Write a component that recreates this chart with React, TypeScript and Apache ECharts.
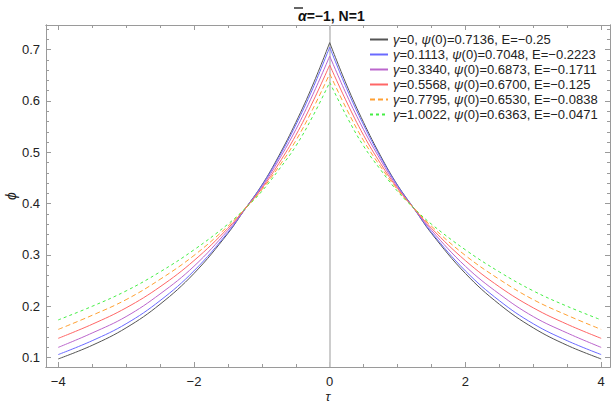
import React, { useEffect, useRef } from "react";
import * as echarts from "echarts";

// tau values (right half; curves are symmetric about tau = 0)
const tau = [0, 0.25, 0.5, 0.75, 1, 1.25, 1.5, 2, 2.5, 3, 3.5, 4];

const names = [
  "γ=0, ψ(0)=0.7136, E=−0.25",
  "γ=0.1113, ψ(0)=0.7048, E=−0.2223",
  "γ=0.3340, ψ(0)=0.6873, E=−0.1711",
  "γ=0.5568, ψ(0)=0.6700, E=−0.125",
  "γ=0.7795, ψ(0)=0.6530, E=−0.0838",
  "γ=1.0022, ψ(0)=0.6363, E=−0.0471",
];

const phiG0 = [0.7136, 0.631, 0.558, 0.493, 0.436, 0.389, 0.342, 0.264, 0.204, 0.158, 0.124, 0.0975];
const phiG1 = [0.7048, 0.624, 0.553, 0.49, 0.435, 0.389, 0.344, 0.269, 0.211, 0.166, 0.133, 0.106];
const phiG2 = [0.6873, 0.612, 0.544, 0.485, 0.432, 0.389, 0.348, 0.278, 0.224, 0.18, 0.148, 0.12];
const phiG3 = [0.67, 0.598, 0.533, 0.478, 0.4295, 0.3895, 0.352, 0.289, 0.238, 0.197, 0.165, 0.1376];
const phiG4 = [0.653, 0.584, 0.5226, 0.472, 0.427, 0.3898, 0.356, 0.299, 0.2525, 0.213, 0.1825, 0.155];
const phiG5 = [0.6363, 0.57, 0.512, 0.466, 0.424, 0.39, 0.36, 0.31, 0.267, 0.23, 0.2, 0.1735];
const curves = [phiG0, phiG1, phiG2, phiG3, phiG4, phiG5];

const colors = ["#555555", "#6a6aff", "#bb66cc", "#ff6666", "#ffa033", "#44ee44"];
const dashes: any[] = ["solid", "solid", "solid", "solid", [5, 3], [3, 3]];

const xMajor = [-4, -2, 0, 2, 4];
const xMinor = [-3.5, -3, -2.5, -1.5, -1, -0.5, 0.5, 1, 1.5, 2.5, 3, 3.5];
const yMajor = [0.1, 0.2, 0.3, 0.4, 0.5, 0.6, 0.7];
const yMinor = [
  0.12, 0.14, 0.16, 0.18, 0.22, 0.24, 0.26, 0.28, 0.32, 0.34, 0.36, 0.38, 0.42, 0.44, 0.46, 0.48,
  0.52, 0.54, 0.56, 0.58, 0.62, 0.64, 0.66, 0.68, 0.72, 0.74,
];

const X_MIN = -4.18;
const X_MAX = 4.13;
const Y_MIN = 0.0818;
const Y_MAX = 0.748;

const FONT = "Liberation Sans, Arial, sans-serif";
const FRAME = "#9a9a9a";

export default function App() {
  const ref = useRef<HTMLDivElement>(null);

  useEffect(() => {
    const chart = echarts.init(ref.current!, null, { renderer: "svg" });

    const gridRect = { left: 46, right: 2, top: 25, bottom: 38, containLabel: false, outerBoundsMode: "none" };

    const mkX = (grid: number, pos: string, ticks: number[], len: number, labels: boolean, extra: any = {}) => ({
      type: "value",
      gridIndex: grid,
      position: pos,
      min: X_MIN,
      max: X_MAX,
      axisLine: { show: true, onZero: false, lineStyle: { color: FRAME, width: 1 } },
      axisTick: { show: true, inside: true, length: len, customValues: ticks, lineStyle: { color: FRAME } },
      axisLabel: labels
        ? {
            show: true,
            customValues: ticks,
            margin: 8,
            color: "#222",
            fontSize: 13,
            fontFamily: FONT,
            formatter: (v: number) => String(v).replace("-", "−"),
          }
        : { show: false },
      splitLine: { show: false },
      ...extra,
    });

    const mkY = (grid: number, pos: string, ticks: number[], len: number, labels: boolean, extra: any = {}) => ({
      type: "value",
      gridIndex: grid,
      position: pos,
      min: Y_MIN,
      max: Y_MAX,
      axisLine: { show: true, onZero: false, lineStyle: { color: FRAME, width: 1 } },
      axisTick: { show: true, inside: true, length: len, customValues: ticks, lineStyle: { color: FRAME } },
      axisLabel: labels
        ? {
            show: true,
            customValues: ticks,
            margin: 6,
            color: "#222",
            fontSize: 13,
            fontFamily: FONT,
            formatter: (v: number) => v.toFixed(1),
          }
        : { show: false },
      splitLine: { show: false },
      ...extra,
    });

    const series: any[] = [];
    curves.forEach((vals, i) => {
      const right = tau.map((t, k) => [t, vals[k]]);
      const left = tau.map((t, k) => [-t, vals[k]]).reverse();
      [left, right].forEach((data, side) => {
        const s: any = {
          type: "line",
          name: names[i],
          xAxisIndex: 0,
          yAxisIndex: 0,
          data,
          smooth: 0.4,
          symbol: "none",
          lineStyle: { color: colors[i], width: 1, type: dashes[i] },
          itemStyle: { color: colors[i] },
          z: 3,
        };
        if (i === 0 && side === 0) {
          s.markLine = {
            silent: true,
            symbol: ["none", "none"],
            label: { show: false },
            lineStyle: { color: "#c8c8c8", width: 1.8, type: "solid" },
            data: [{ xAxis: 0 }],
            z: 1,
          };
        }
        series.push(s);
      });
    });

    chart.setOption({
      animation: false,
      backgroundColor: "#ffffff",
      title: {
        text: "{a|α}{b|=−1, N=1}",
        left: 293,
        top: 4,
        textStyle: {
          rich: {
            a: { fontStyle: "italic", fontWeight: "bold", fontSize: 14, fontFamily: FONT, color: "#111" },
            b: { fontWeight: "bold", fontSize: 14, fontFamily: FONT, color: "#111" },
          },
        },
      },
      graphic: [
        {
          type: "line",
          shape: { x1: 294, y1: 8, x2: 303, y2: 8 },
          style: { stroke: "#111", lineWidth: 1.3 },
        },
      ],
      legend: {
        orient: "vertical",
        left: 364,
        top: 28,
        itemWidth: 18,
        itemHeight: 14,
        itemGap: 2,
        data: names,
        itemStyle: { opacity: 0 },
        formatter: (n: string) => n.replace(/([γψ])/g, "{i|$1}"),
        textStyle: {
          fontSize: 13,
          fontFamily: FONT,
          color: "#222",
          rich: { i: { fontStyle: "italic", fontSize: 13, fontFamily: FONT, color: "#222" } },
        },
      },
      grid: [{ ...gridRect }, { ...gridRect }],
      xAxis: [
        mkX(0, "bottom", xMajor, 5, true, {
          name: "τ",
          nameLocation: "middle",
          nameGap: 23,
          nameMoveOverlap: false,
          nameTextStyle: { fontStyle: "italic", fontSize: 13, fontFamily: FONT, color: "#222" },
        }),
        mkX(0, "top", xMajor, 5, false),
        mkX(1, "bottom", xMinor, 3, false),
        mkX(1, "top", xMinor, 3, false),
      ],
      yAxis: [
        mkY(0, "left", yMajor, 5, true, {
          name: "ϕ",
          nameLocation: "middle",
          nameGap: 28,
          nameRotate: 90,
          nameMoveOverlap: false,
          nameTextStyle: { fontStyle: "italic", fontSize: 14, fontFamily: FONT, color: "#222" },
        }),
        mkY(0, "right", yMajor, 5, false),
        mkY(1, "left", yMinor, 3, false),
        mkY(1, "right", yMinor, 3, false),
      ],
      series,
    });

    return () => chart.dispose();
  }, []);

  return (
    <div
      ref={ref}
      style={{ position: "fixed", left: 0, top: 0, width: 612, height: 405, background: "#fff" }}
    />
  );
}
